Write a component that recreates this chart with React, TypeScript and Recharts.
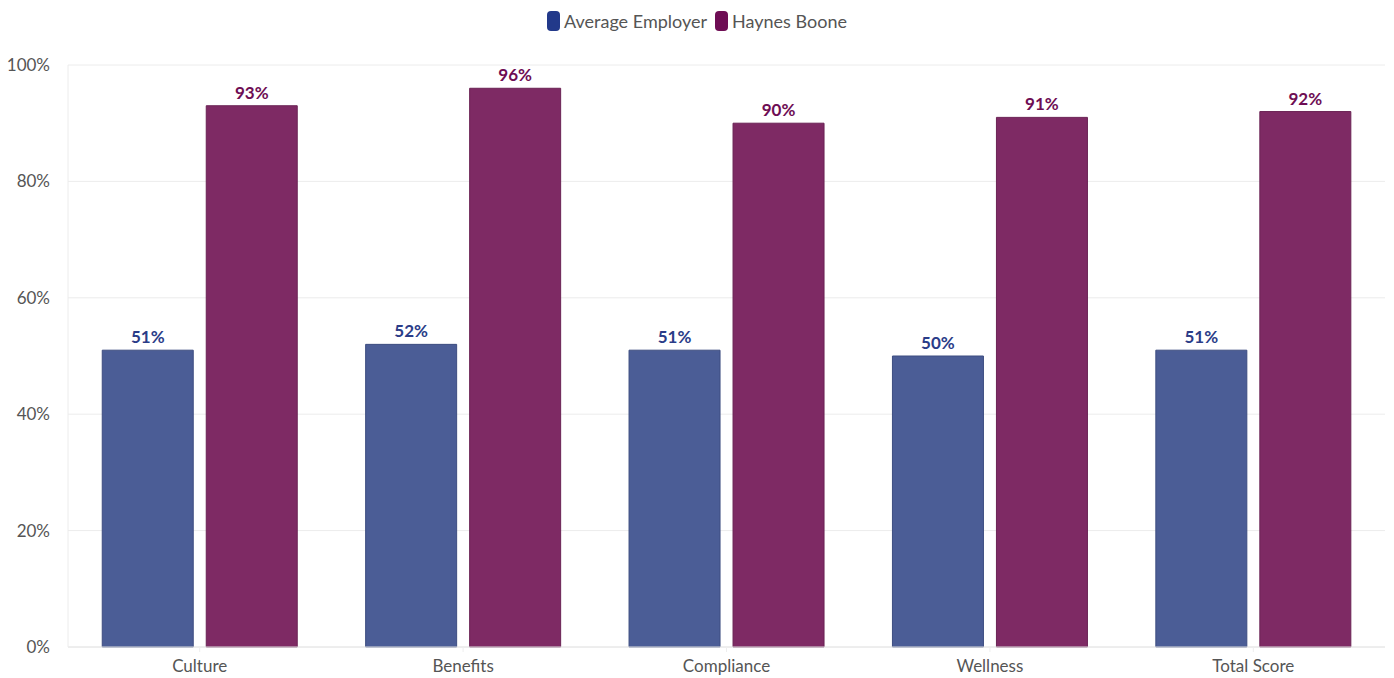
import React from "react";
import { BarChart, Bar, XAxis, YAxis, CartesianGrid, Legend, LabelList } from "recharts";

const categories = ["Culture", "Benefits", "Compliance", "Wellness", "Total Score"];
const averageEmployer = [51, 52, 51, 50, 51];
const haynesBoone = [93, 96, 90, 91, 92];
const yTicks = [0, 20, 40, 60, 80, 100];

const data = categories.map((c, i) => ({ name: c, avg: averageEmployer[i], hb: haynesBoone[i] }));

const FONT = "Lato, 'Noto Sans', sans-serif";

const renderLegend = () => (
  <div style={{ display: "flex", justifyContent: "center", alignItems: "center", fontFamily: FONT, fontSize: 18, color: "#555", gap: 8 }}>
    <span style={{ display: "flex", alignItems: "center" }}>
      <span style={{ width: 13, height: 20, background: "#22398a", borderRadius: 4, display: "inline-block", marginRight: 4 }} />
      Average Employer
    </span>
    <span style={{ display: "flex", alignItems: "center" }}>
      <span style={{ width: 13, height: 20, background: "#6e0d54", borderRadius: 4, display: "inline-block", marginRight: 4 }} />
      Haynes Boone
    </span>
  </div>
);

export default function App() {
  return (
    <div style={{ position: "absolute", left: 0, top: 0, width: 1394, height: 678, background: "#fff" }}>
      <BarChart width={1394} height={678} data={data} margin={{ top: 43, right: 9, bottom: 0, left: 0 }} barCategoryGap="13%" barGap={13}>
        <CartesianGrid vertical={false} stroke="#ececec" />
        <Legend verticalAlign="top" content={renderLegend} wrapperStyle={{ top: 10, left: 0, width: 1394 }} />
        <XAxis dataKey="name" axisLine={{ stroke: "#e6e6e6" }} tickLine={{ stroke: "#eeeeee" }} tickSize={5} height={31}
          tick={{ fill: "#555", fontSize: 17, fontFamily: FONT }} tickMargin={8} />
        <YAxis domain={[0, 100]} ticks={yTicks} width={68} axisLine={{ stroke: "#ececec" }} tickLine={false}
          tickFormatter={(v: number) => `${v}%`} tick={{ fill: "#555", fontSize: 17, fontFamily: FONT }} tickMargin={12} />
        <Bar dataKey="avg" name="Average Employer" fill="#4b5d96" stroke="#3d4d80" strokeWidth={1} isAnimationActive={false}>
          <LabelList dataKey="avg" position="top" offset={7} formatter={(v: number) => `${v}%`}
            style={{ fill: "#2a3c88", fontSize: 17, fontWeight: 700, fontFamily: FONT }} />
        </Bar>
        <Bar dataKey="hb" name="Haynes Boone" fill="#7e2a64" stroke="#6a2254" strokeWidth={1} isAnimationActive={false}>
          <LabelList dataKey="hb" position="top" offset={7} formatter={(v: number) => `${v}%`}
            style={{ fill: "#6e0d54", fontSize: 17, fontWeight: 700, fontFamily: FONT }} />
        </Bar>
      </BarChart>
    </div>
  );
}
